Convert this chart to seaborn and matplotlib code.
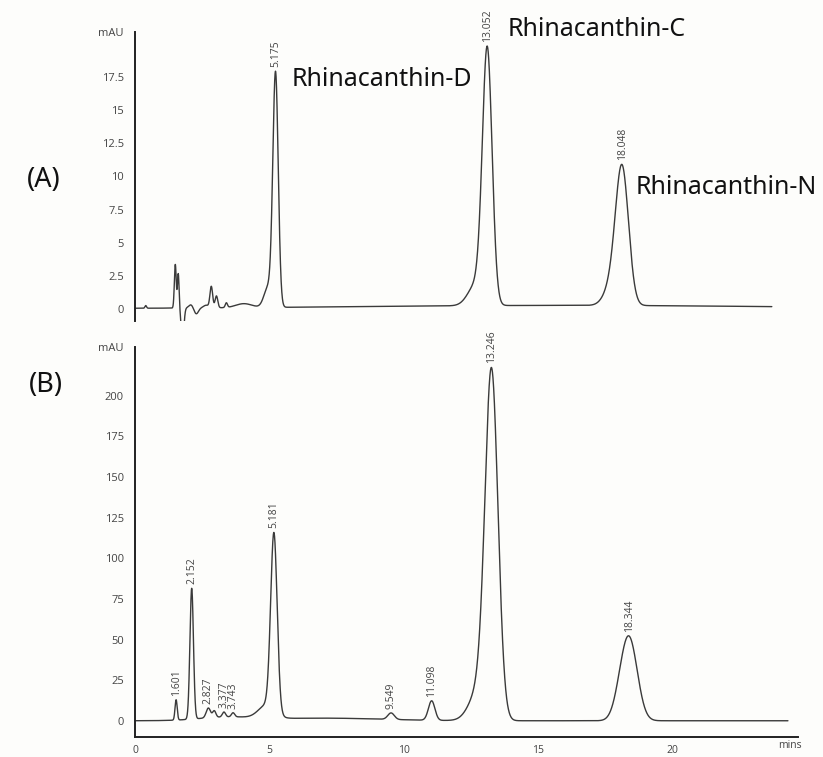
import numpy as np
import pandas as pd
import matplotlib
matplotlib.use("Agg")
import matplotlib.pyplot as plt
import seaborn as sns

# peak tables (retention time, height in mAU, width)
rt_a = [0.40, 1.50, 1.61, 1.77, 2.08, 2.28, 2.65, 2.84, 3.03, 3.40, 4.05, 4.95, 5.23, 12.70, 13.11, 17.75, 18.13, 16.0]
h_a = [0.2, 3.3, 2.6, -2.5, 0.25, -0.45, 0.2, 1.6, 0.9, 0.35, 0.3, 1.5, 17.6, 1.6, 19.0, 1.4, 10.1, 0.25]
w_a = [0.03, 0.035, 0.03, 0.05, 0.08, 0.08, 0.1, 0.05, 0.05, 0.04, 0.3, 0.15, 0.1, 0.3, 0.18, 0.28, 0.24, 8.0]

rt_b = [1.53, 2.11, 2.73, 2.95, 3.31, 3.65, 3.40, 4.90, 5.17, 7.0, 9.53, 11.04, 12.80, 13.27, 18.05, 18.40]
h_b = [12.5, 80.5, 6.0, 4.0, 3.0, 2.5, 2.0, 8.0, 109.0, 1.6, 4.0, 12.0, 18.0, 210.0, 8.0, 49.0]
w_b = [0.04, 0.065, 0.08, 0.06, 0.06, 0.06, 1.0, 0.3, 0.12, 2.2, 0.12, 0.12, 0.35, 0.24, 0.25, 0.3]

end_a, end_b = 23.7, 24.3

labels_a = ["5.175", "13.052", "18.048"]
label_rt_a = [5.23, 13.11, 18.13]
labels_b = ["1.601", "2.152", "2.827", "3.377", "3.743", "5.181", "9.549", "11.098", "13.246", "18.344"]
label_rt_b = [1.53, 2.11, 2.73, 3.31, 3.65, 5.17, 9.53, 11.04, 13.27, 18.40]

compounds = ["Rhinacanthin-D", "Rhinacanthin-C", "Rhinacanthin-N"]

yticks_a = [0, 2.5, 5, 7.5, 10, 12.5, 15, 17.5]
yticks_b = [0, 25, 50, 75, 100, 125, 150, 175, 200]
xticks = [0, 5, 10, 15, 20]


def trace(rt, h, w, t_end):
    t = np.linspace(0, t_end, 6000)
    y = np.zeros_like(t)
    for c, a, s in zip(rt, h, w):
        y += a * np.exp(-0.5 * ((t - c) / s) ** 2)
    return pd.DataFrame({"t": t, "mAU": y})


df_a = trace(rt_a, h_a, w_a, end_a)
df_b = trace(rt_b, h_b, w_b, end_b)

sns.set_style("white")
plt.rcParams['font.family'] = ['Open Sans', 'DejaVu Sans']

W, H = 823, 757
fig = plt.figure(figsize=(W / 100, H / 100), dpi=100)
fig.patch.set_facecolor("#fdfdfb")

x0, x1 = 135, 798
ax_a = fig.add_axes([x0 / W, 1 - 320.6 / H, (x1 - x0) / W, (320.6 - 32) / H])
ax_b = fig.add_axes([x0 / W, 1 - 737 / H, (x1 - x0) / W, (737 - 347) / H])

line_col = "#3a3a3a"
for ax, df in [(ax_a, df_a), (ax_b, df_b)]:
    ax.set_facecolor("none")
    sns.lineplot(data=df, x="t", y="mAU", ax=ax, color=line_col, lw=1.0)
    ax.set_xlim(0, (x1 - x0) / 26.87)
    ax.set_xlabel("")
    ax.set_ylabel("")
    for s in ["top", "right"]:
        ax.spines[s].set_visible(False)
    ax.spines["left"].set_linewidth(1.4)
    ax.spines["left"].set_color("#222222")
    ax.tick_params(axis="y", direction="out", length=6, width=1.2, color="#222222",
                   labelsize=8, labelcolor="#444444", pad=2)

# panel A
ax_a.set_ylim(-0.9, 20.93)
ax_a.spines["bottom"].set_visible(False)
ax_a.set_xticks([])
ax_a.set_yticks(yticks_a + [20.93])
ax_a.set_yticklabels([f"{v:g}" for v in yticks_a] + ["mAU"])

# panel B
ax_b.set_ylim(-10, 230)
ax_b.spines["bottom"].set_linewidth(1.4)
ax_b.spines["bottom"].set_color("#222222")
ax_b.set_yticks(yticks_b + [230])
ax_b.set_yticklabels([f"{v:g}" for v in yticks_b] + ["mAU"])
ax_b.set_xticks(xticks)
ax_b.tick_params(axis="x", direction="out", length=5, width=1.2, color="#222222",
                 labelsize=7.5, labelcolor="#444444", pad=0.5)

# retention time labels above the peaks
for ax, df, labs, rts in [(ax_a, df_a, labels_a, label_rt_a), (ax_b, df_b, labels_b, label_rt_b)]:
    for lab, r in zip(labs, rts):
        yv = np.interp(r, df["t"], df["mAU"])
        ax.annotate(lab, (r, yv), xytext=(0, 3), textcoords="offset points",
                    rotation=90, ha="center", va="bottom", fontsize=7.5,
                    color="#444444", annotation_clip=False)

fig.text(790 / W, 1 - 745 / H, "mins", fontsize=7.5, color="#444444", ha="center", va="center")

big = dict(fontsize=18, family=["Noto Sans", "DejaVu Sans"], color="#111111", va="center", ha="left")
fig.text(292 / W, 1 - 80 / H, compounds[0], **big)
fig.text(508 / W, 1 - 30 / H, compounds[1], **big)
fig.text(636 / W, 1 - 187 / H, compounds[2], **big)
fig.text(27 / W, 1 - 180 / H, "(A)", **dict(big, fontsize=19.5))
fig.text(29 / W, 1 - 385 / H, "(B)", **dict(big, fontsize=19.5))

fig.savefig("out.png", dpi=100, facecolor=fig.get_facecolor())
